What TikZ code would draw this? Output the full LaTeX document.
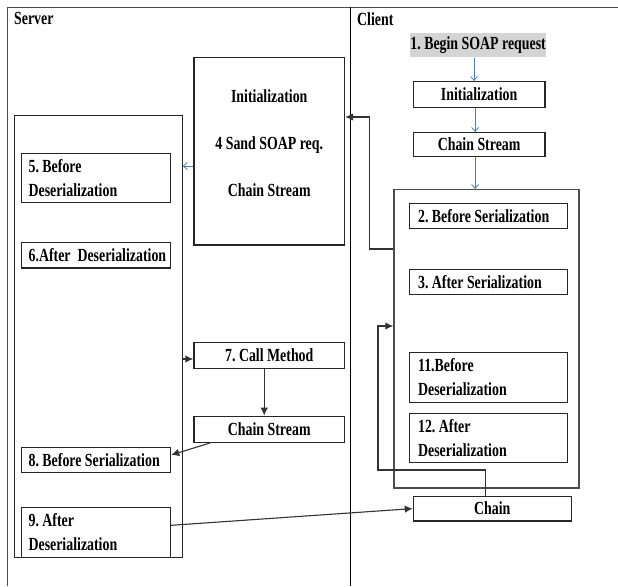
\documentclass[tikz,border=0pt]{standalone}
\usepackage{fontspec}
\newfontfamily\diagfont{Liberation Serif}[FakeStretch=0.75]
\usetikzlibrary{arrows.meta,positioning}
\definecolor{flowblue}{RGB}{74,126,187}
\definecolor{reqgray}{RGB}{212,212,212}

\begin{document}
\begin{tikzpicture}[
    x=1pt, y=-1pt,
    font=\diagfont\bfseries\fontsize{18.5}{24}\selectfont\frenchspacing,
    box/.style={rectangle, draw=black!85, line width=1.2pt, anchor=north west, inner sep=0pt},
    srvbox/.style={box, inner xsep=7pt, text width=135pt, align=flush left},
    clibox/.style={box, inner xsep=8.5pt, text width=141pt, align=flush left},
    frame/.style={draw=black!70, line width=1.2pt},
    arrow/.style={-{Latex[length=8pt,width=7.5pt]}, draw=black!80, line width=1.1pt},
    flow/.style={-{Straight Barb[length=4pt,width=7pt]}, draw=flowblue, line width=0.8pt}
]
    \useasboundingbox (0,0) rectangle (618,586);

    % frame and the two sides
    \draw[frame] (7.3,586) -- (7.3,7.3) -- (618,7.3);
    \draw[line width=0.9pt] (350.7,7.3) -- (350.7,586);
    \node[anchor=north west, inner sep=0pt] (srvtitle) at (14,12.5) {Server};
    \node[anchor=north west, inner sep=0pt] (clititle) at (357,12.5) {Client};

    % client side
    \node[box, draw=none, fill=reqgray, minimum width=136.4, minimum height=24.4] (begin) at (409.3,32.3) {1. Begin SOAP request};
    \node[box, minimum width=131.6, minimum height=25.7] (cinit) at (412.7,81) {Initialization};
    \node[box, minimum width=131.6, minimum height=24] (cstream) at (412.7,132) {Chain Stream};
    \node[box, draw=black!70, minimum width=185, minimum height=298.3] (cbig) at (393.3,189) {};
    \node[clibox, minimum height=24.7] (before2) at (409,203) {2. Before Serialization};
    \node[clibox, minimum height=24.7] (after3) at (409,269) {3. After Serialization};
    \node[clibox, minimum height=50] (before11) at (409,351.7) {11.Before\\Deserialization};
    \node[clibox, minimum height=49.3] (after12) at (409,412.7) {12. After\\Deserialization};
    \node[box, minimum width=158, minimum height=24.6] (chain) at (412.7,495.7) {Chain};

    % server side
    \node[box, minimum width=150.7, minimum height=187, align=center] (sinit) at (193.3,57.3)
        {Initialization\\[23pt]4 Sand SOAP req.\\[23pt]Chain Stream\rule[-16pt]{0pt}{16pt}};
    \node[box, line width=1pt, minimum width=167.4, minimum height=442] (sbig) at (14.3,115) {};
    \node[srvbox, minimum height=49] (before5) at (21,152.7) {5. Before\\Deserialization};
    \node[srvbox, minimum height=25.6] (after6) at (21,241.7) {\mbox{6.After\ \ Deserialization}};
    \node[box, minimum width=150.7, minimum height=26] (callm) at (193.3,341.7) {7. Call Method};
    \node[box, minimum width=150.7, minimum height=26] (sstream) at (193.3,415.7) {Chain Stream};
    \node[srvbox, minimum height=25.3] (before8) at (21,446.7) {\mbox{8. Before Serialization}};
    \node[srvbox, minimum height=50] (after9) at (21,506.7) {9. After\\Deserialization};

    % request flow
    \draw[flow] ([xshift=-4]begin.south) -- ([xshift=-4]begin.south |- cinit.north);
    \draw[flow] ([xshift=-4]cinit.south) -- ([xshift=-4]cinit.south |- cstream.north);
    \draw[flow] ([xshift=-4]cstream.south) -- ([xshift=-4]cstream.south |- cbig.north);
    \draw[flow] (sinit.west |- 0,166) -- (sbig.east |- 0,166);

    \draw[arrow] (cbig.west |- 0,249) -- ++(-24,0) |- (sinit.east |- 0,117);
    \draw[arrow] (sbig.east |- 0,359) -- (callm.west |- 0,359);
    \draw[arrow] ([xshift=-5]callm.south) -- ([xshift=-5]sstream.north);
    \draw[arrow] ([xshift=17]sstream.south west) -- ([yshift=5]before8.east);
    \draw[arrow] ([yshift=7]after9.east) -- (chain.west);
    \draw[arrow] ([xshift=-7]chain.north) |- (378,470) |- (cbig.west |- 0,326);
\end{tikzpicture}
\end{document}
